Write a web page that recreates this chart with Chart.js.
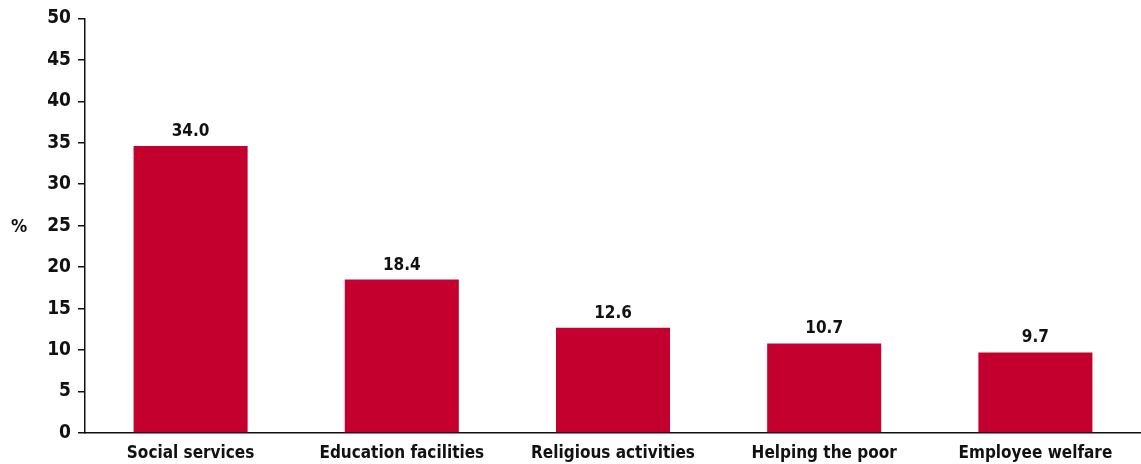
<!DOCTYPE html>
<html>
<head>
<meta charset="utf-8">
<script src="https://cdn.jsdelivr.net/npm/chart.js@4"></script>
<style>
    body { margin: 0; background: #fff; }
    .wrap { width: 1141px; height: 464px; position: relative; }
</style>
</head>
<body>
<div class="wrap"><canvas id="myChart"></canvas></div>
<script>
const categories = ['Social services', 'Education facilities', 'Religious activities', 'Helping the poor', 'Employee welfare'];
// bar heights as drawn in the picture
const values = [34.6, 18.5, 12.7, 10.8, 9.7];
// numbers printed above the bars
const valueLabels = ['34.0', '18.4', '12.6', '10.7', '9.7'];
const yTicks = [0, 5, 10, 15, 20, 25, 30, 35, 40, 45, 50];
const yTitle = '%';

const font = "'Liberation Sans Narrow', 'DejaVu Sans Condensed', sans-serif";

// numbers above bars + the "%" label
const extraText = {
    id: 'extraText',
    afterDatasetsDraw(chart) {
        const ctx = chart.ctx;
        const meta = chart.getDatasetMeta(0);
        ctx.save();
        ctx.fillStyle = '#111';
        ctx.font = 'bold 17px ' + font;
        ctx.textAlign = 'center';
        ctx.textBaseline = 'bottom';
        meta.data.forEach((bar, i) => {
            ctx.fillText(valueLabels[i], bar.x, bar.y - 6);
        });
        const area = chart.chartArea;
        ctx.font = 'bold 18px ' + font;
        ctx.textBaseline = 'middle';
        ctx.fillText(yTitle, 19, (area.top + area.bottom) / 2 + 2);
        ctx.restore();
    }
};

const ctx = document.getElementById('myChart');
const myChart = new Chart(ctx, {
    type: 'bar',
    data: {
        labels: categories,
        datasets: [{
            data: values,
            backgroundColor: 'rgb(196, 0, 47)',
            borderWidth: 0,
            barPercentage: 0.54,
            categoryPercentage: 1
        }]
    },
    options: {
        responsive: true,
        maintainAspectRatio: false,
        animation: false,
        layout: {
            padding: { top: 8, right: 0, bottom: 0, left: 0 }
        },
        plugins: {
            legend: { display: false },
            tooltip: { enabled: false }
        },
        scales: {
            x: {
                afterFit(scale) {
                    scale.height = 31;
                },
                grid: { display: false, drawTicks: false },
                border: { color: '#111', width: 1.5 },
                ticks: {
                    color: '#111',
                    padding: 10,
                    font: { family: font, size: 17, weight: 'bold' }
                }
            },
            y: {
                min: 0,
                max: 50,
                afterBuildTicks(scale) {
                    scale.ticks = yTicks.map(v => ({ value: v }));
                },
                afterFit(scale) {
                    scale.width = 85;
                },
                grid: {
                    drawOnChartArea: false,
                    drawTicks: true,
                    tickLength: 7,
                    color: '#111',
                    lineWidth: 1.5
                },
                border: { color: '#111', width: 1.5 },
                ticks: {
                    color: '#111',
                    padding: 7,
                    font: { family: font, size: 19, weight: 'bold' }
                }
            }
        }
    },
    plugins: [extraText]
});
</script>
</body>
</html>
